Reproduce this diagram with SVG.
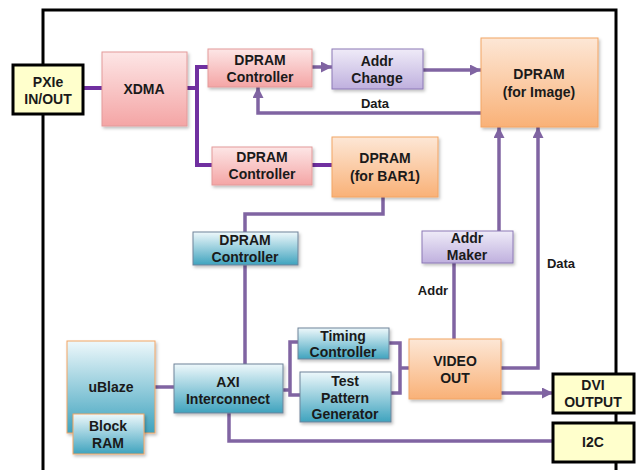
<svg xmlns="http://www.w3.org/2000/svg" width="637" height="470" viewBox="0 0 637 470">
<defs>
<linearGradient id="gPink" x1="0" y1="0" x2="0" y2="1"><stop offset="0" stop-color="#fde6e6"/><stop offset="1" stop-color="#f4a5a5"/></linearGradient>
<linearGradient id="gOrange" x1="0" y1="0" x2="0" y2="1"><stop offset="0" stop-color="#fde7d6"/><stop offset="1" stop-color="#f9b177"/></linearGradient>
<linearGradient id="gPurple" x1="0" y1="0" x2="0" y2="1"><stop offset="0" stop-color="#efebf8"/><stop offset="1" stop-color="#bfb0de"/></linearGradient>
<linearGradient id="gBlue" x1="0" y1="0" x2="0" y2="1"><stop offset="0" stop-color="#eef8fb"/><stop offset="1" stop-color="#3fa3be"/></linearGradient>
<filter id="sh" x="-10%" y="-10%" width="130%" height="130%"><feDropShadow dx="1.5" dy="2" stdDeviation="1.5" flood-color="#000" flood-opacity="0.25"/></filter>
<marker id="ah" viewBox="0 0 10 10" refX="10" refY="5" markerWidth="11" markerHeight="11" markerUnits="userSpaceOnUse" orient="auto"><path d="M0,0 L10,5 L0,10 Z" fill="#8064a2"/></marker>
<style>
text{font-family:"Liberation Sans",Arial,sans-serif;font-weight:bold;font-size:14px;fill:#1a1a1a;text-anchor:middle}
.pink{fill:url(#gPink);stroke:#e39a9a;stroke-width:1;filter:url(#sh)}
.orange{fill:url(#gOrange);stroke:#f2a565;stroke-width:1;filter:url(#sh)}
.purple{fill:url(#gPurple);stroke:#8c79b6;stroke-width:1;filter:url(#sh)}
.blue{fill:url(#gBlue);stroke:#6f8399;stroke-width:1;filter:url(#sh)}
.blueo{fill:url(#gBlue);stroke:#f2a565;stroke-width:1;filter:url(#sh)}
.yellow{fill:#ffffcc;stroke:#000;stroke-width:3}
.c1{fill:none;stroke:#7030a0;stroke-width:4}
.c2{fill:none;stroke:#8064a2;stroke-width:3.5}
.arr{marker-end:url(#ah)}
.lbl{font-size:13px}
</style>
</defs>
<rect x="0" y="0" width="637" height="470" fill="#ffffff"/>
<rect id="frame" x="43" y="10" width="573" height="480" fill="none" stroke="#000" stroke-width="3"/>
<g id="connectors">
<path class="c1" d="M83 88 H102"/>
<path class="c1" d="M187 88 H197"/>
<path class="c1" d="M208 67 H197 V165 H212"/>
<path class="c2 arr" d="M312 67 H332"/>
<path class="c2 arr" d="M423 70 H481"/>
<path class="c2 arr" d="M481 113 H258 V87"/>
<path class="c1" d="M312 165 H332"/>
<path class="c2" d="M383 197 V214 H245 V364"/>
<path class="c2" d="M155 387 H174"/>
<path class="c2" d="M283 390 H290"/>
<path class="c2" d="M298 342 H290 V395 H300"/>
<path class="c2" d="M389 343 H400 V393 H391"/>
<path class="c2" d="M400 368 H409"/>
<path class="c2 arr" d="M499 231 V127"/>
<path class="c2" d="M454 263 V339"/>
<path class="c2 arr" d="M501 368 H538 V127"/>
<path class="c2 arr" d="M501 393 H553"/>
<path class="c2" d="M229 413 V441 H553"/>
<text class="lbl" x="375" y="108">Data</text>
<text class="lbl" x="433" y="295">Addr</text>
<text class="lbl" x="561" y="268">Data</text>
</g>
<g id="pxie"><rect class="yellow" x="13" y="65" width="70" height="49"/><text x="48" y="87">PXIe</text><text x="48" y="104">IN/OUT</text></g>
<g id="xdma"><rect class="pink" x="102" y="52" width="85" height="74"/><text x="144" y="94">XDMA</text></g>
<g id="dpram_ctrl1"><rect class="pink" x="208" y="49" width="104" height="38"/><text x="260" y="65">DPRAM</text><text x="260" y="82">Controller</text></g>
<g id="addr_change"><rect class="purple" x="332" y="49" width="91" height="40"/><text x="377" y="66">Addr</text><text x="377" y="83">Change</text></g>
<g id="dpram_image"><rect class="orange" x="481" y="38" width="117" height="89"/><text x="539" y="79">DPRAM</text><text x="539" y="97">(for Image)</text></g>
<g id="dpram_ctrl2"><rect class="pink" x="212" y="147" width="100" height="38"/><text x="262" y="162">DPRAM</text><text x="262" y="179">Controller</text></g>
<g id="dpram_bar1"><rect class="orange" x="332" y="137" width="106" height="60"/><text x="385" y="163">DPRAM</text><text x="385" y="181">(for BAR1)</text></g>
<g id="dpram_ctrl3"><rect class="blue" x="193" y="232" width="105" height="33"/><text x="245" y="245">DPRAM</text><text x="245" y="262">Controller</text></g>
<g id="addr_maker"><rect class="purple" x="422" y="231" width="91" height="32"/><text x="467" y="243">Addr</text><text x="467" y="260">Maker</text></g>
<g id="ublaze"><rect class="blueo" x="67" y="341" width="88" height="92"/><text x="111" y="392">uBlaze</text></g>
<g id="block_ram"><rect class="blueo" x="73" y="414" width="71" height="40"/><text x="108" y="431">Block</text><text x="108" y="448">RAM</text></g>
<g id="axi"><rect class="blue" x="174" y="364" width="109" height="49"/><text x="228" y="387">AXI</text><text x="228" y="404">Interconnect</text></g>
<g id="timing"><rect class="blue" x="298" y="328" width="91" height="31"/><text x="343" y="341">Timing</text><text x="343" y="357">Controller</text></g>
<g id="test_pattern"><rect class="blue" x="300" y="372" width="91" height="50"/><text x="345" y="386">Test</text><text x="345" y="403">Pattern</text><text x="345" y="419">Generator</text></g>
<g id="video_out"><rect class="orange" x="409" y="339" width="92" height="60"/><text x="455" y="366">VIDEO</text><text x="455" y="383">OUT</text></g>
<g id="dvi"><rect class="yellow" x="553" y="374" width="81" height="39"/><text x="593" y="390">DVI</text><text x="593" y="407">OUTPUT</text></g>
<g id="i2c"><rect class="yellow" x="553" y="423" width="81" height="39"/><text x="593" y="447">I2C</text></g>
</svg>
